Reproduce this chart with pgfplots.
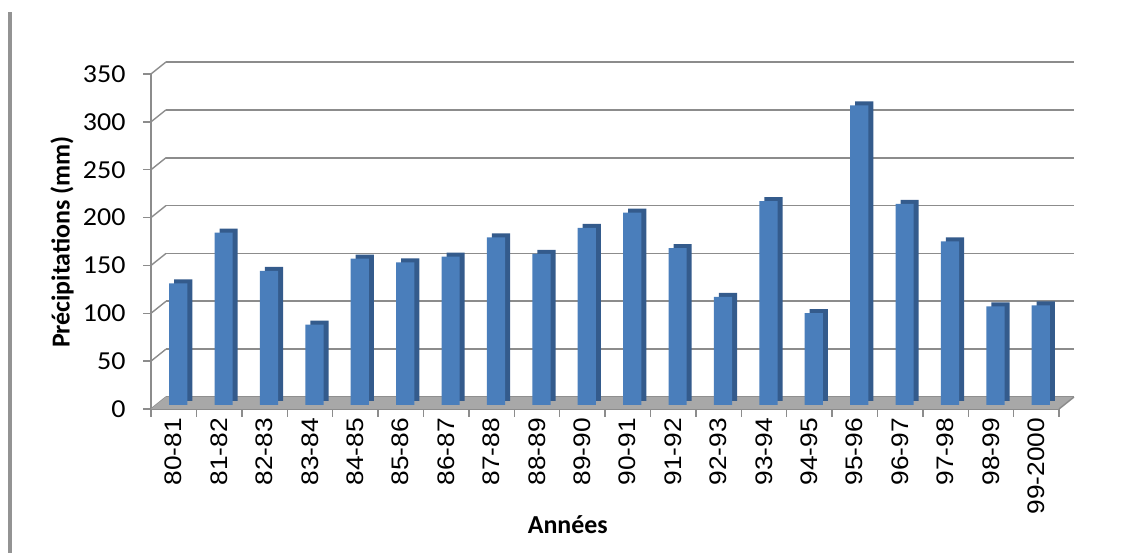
\documentclass[border=0pt]{standalone}
\usepackage{pgfplots}
\usepackage{pgfplotstable}
\pgfplotsset{compat=1.18}
\usepackage{fontspec}
\setmainfont{Carlito}
\newfontfamily\arialfont{Liberation Sans}

\definecolor{barfront}{HTML}{4A7EBB}
\definecolor{barside}{HTML}{345B8C}
\definecolor{gridgray}{HTML}{8C8C8C}
\definecolor{floorgray}{HTML}{A8A8A8}
\definecolor{flooredge}{HTML}{8A8A8A}

% Annual precipitation per hydrological year
\pgfplotstableread{
idx  mm
0    127
1    180
2    140
3    84
4    153
5    149
6    155
7    175
8    158
9    185
10   201
11   164
12   113
13   213
14   96
15   313
16   210
17   171
18   103
19   104
}\precip

\begin{document}
\begin{tikzpicture}[x=1bp,y=1bp]
\path[use as bounding box] (0,0) rectangle (1124,553);
% page margin rule
\fill[gray!85] (8,0) rectangle (12,541);

% back wall with the horizontal grid
\begin{axis}[
  at={(166bp,156bp)}, anchor=south west,
  scale only axis, width=908bp, height=335bp,
  xmin=-0.5, xmax=19.5, ymin=0, ymax=350,
  axis line style={draw=none},
  xtick=\empty, ytick={0,50,...,350}, yticklabels={},
  major tick length=0pt,
  ymajorgrids, grid style={gridgray, line width=1.6bp},
]
\addplot[draw=none] coordinates {(0,0)};
\end{axis}

% front plane: floor, bars, axes and labels
\begin{axis}[
  at={(151bp,144bp)}, anchor=south west,
  scale only axis, width=908bp, height=335bp,
  xmin=-0.5, xmax=19.5, ymin=0, ymax=350,
  axis x line*=bottom, axis y line*=left,
  axis line style={gridgray, line width=1.4bp, -},
  tick style={gridgray, line width=1.4bp},
  tick align=outside,
  ytick={0,50,...,350},
  major tick length=8bp,
  /pgf/number format/assume math mode=true,
  yticklabel style={font=\fontsize{26}{28}\selectfont, inner sep=0pt, anchor=east,
                    xscale=1.08, xshift=-16bp},
  % category boundaries carry the tick marks
  xtick={-0.5,0.5,...,19.5},
  xticklabels={},
  % category names sit at the bar centres
  extra x ticks={0,...,19},
  extra x tick labels={80-81,81-82,82-83,83-84,84-85,85-86,86-87,87-88,88-89,89-90,
               90-91,91-92,92-93,93-94,94-95,95-96,96-97,97-98,98-99,99-2000},
  extra x tick style={major tick length=0pt},
  xticklabel style={font=\arialfont\fontsize{24}{26}\selectfont, rotate=90,
                    anchor=east, inner sep=0pt, xscale=1.1, xshift=-8bp},
  xlabel={\bfseries Années},
  ylabel={\bfseries Précipitations (mm)},
  every axis x label/.style={at={(axis description cs:0.459,-0.346)}, anchor=center,
                             font=\fontsize{26}{30}\selectfont},
  every axis y label/.style={at={(axis description cs:-0.098,0.4985)}, anchor=center, rotate=90,
                             font=\fontsize{26}{30}\selectfont},
  clip=false,
]
% side wall edges and floor
\pgfplotsinvokeforeach{0,50,...,350}{
  \draw[gridgray, line width=1.4bp] (axis cs:-0.5,#1) -- ++(15bp,12bp);
}
\fill[floorgray] (axis cs:-0.5,0) -- (axis cs:19.5,0) -- ++(15bp,12bp)
  -- ([shift={(15bp,12bp)}]axis cs:-0.5,0) -- cycle;
\draw[flooredge, line width=1.4bp] (axis cs:19.5,0) -- ++(15bp,12bp);

% bar depth (top and side faces)
\addplot[ybar, bar shift=0pt, bar width=18.2bp, fill=barside, draw=none,
  xshift=9.5bp, yshift=8bp] table[x=idx, y=mm] {\precip};
% bar front faces
\addplot[ybar, bar shift=0pt, bar width=18.2bp, fill=barfront, draw=none,
  xshift=4.5bp, yshift=4bp] table[x=idx, y=mm] {\precip};
\end{axis}
\end{tikzpicture}
\end{document}
